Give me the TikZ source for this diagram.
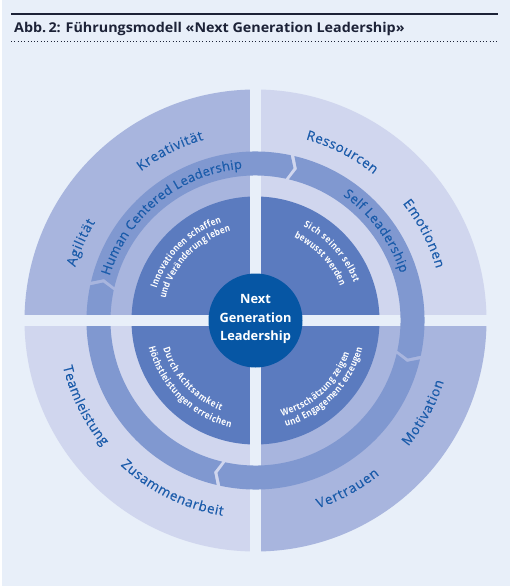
\documentclass[tikz,border=0pt]{standalone}
\usepackage{fontspec}
\setmainfont{Open Sans}
\newfontfamily\condb{Open Sans}[FakeStretch=0.85]
\newfontfamily\medfont{Open Sans}[FakeBold=0.5]
\newfontfamily\titlefont{Open Sans}[FakeStretch=1.06]
\usetikzlibrary{decorations.text}
\definecolor{bgc}{HTML}{E8EFF9}
\definecolor{quadA}{HTML}{A8B5DE}
\definecolor{quadB}{HTML}{D0D6EE}
\definecolor{arrowc}{HTML}{8098D0}
\definecolor{discc}{HTML}{5B7BBF}
\definecolor{centc}{HTML}{0656A4}
\definecolor{tblue}{HTML}{1A5BAA}
\definecolor{titlec}{HTML}{1C2237}
\newcommand\arrowseg[2]{%
  \pgfmathsetmacro\myS{#1-0.3}\pgfmathsetmacro\myN{#1-2.3}%
  \pgfmathsetmacro\myE{#2+1}\pgfmathsetmacro\myT{#2-1}%
  \fill[arrowc] (\myS:169) arc[start angle=\myS,end angle=\myE,radius=169]
    -- (\myT:157) -- (\myE:145) arc[start angle=\myE,end angle=\myS,radius=145]
    -- (\myN:157) -- cycle;}
\newcommand\arctext[5]{%
  \path[decorate,decoration={text along path,text align={fit to path},text={|#4|#5}}]
    (#1:#3) arc[start angle=#1,end angle=#2,radius=#3];}
\newcommand\outfmt{\color{tblue}\medfont\fontsize{13.5}{13.5}\selectfont}
\newcommand\ringfmt{\color{tblue}\medfont\fontsize{13}{13}\selectfont}
\newcommand\infmt{\color{white}\condb\bfseries\fontsize{9.5}{9.5}\selectfont}
\begin{document}
\begin{tikzpicture}[x=1pt,y=1pt]
\useasboundingbox (0,0) rectangle (512,-588);
\fill[white] (0,0) rectangle (512,-588);
\fill[bgc] (2,0) rectangle (510,-586);
% title
\draw[titlec,line width=1.6pt] (11,-14) -- (498,-14);
\node[anchor=base west,inner sep=0,font=\titlefont\bfseries\fontsize{13.5}{15}\selectfont,text=titlec] (title) at (14,-33) {Abb.\,2: Führungsmodell «Next Generation Leadership»};
\draw[titlec,line width=0.9pt,dash pattern=on 0.9pt off 2.4pt] (11,-41) -- (498,-41);
\coordinate (C) at (255.5,-320.5);
\begin{scope}[shift={(C)}]
  \fill[quadA] (0,0) -- (90:231) arc[start angle=90,end angle=180,radius=231] -- cycle;
  \fill[quadB] (0,0) -- (0:231) arc[start angle=0,end angle=90,radius=231] -- cycle;
  \fill[quadB] (0,0) -- (180:231) arc[start angle=180,end angle=270,radius=231] -- cycle;
  \fill[quadA] (0,0) -- (270:231) arc[start angle=270,end angle=360,radius=231] -- cycle;
  \fill[discc] (0,0) circle[radius=124];
  \fill[bgc] (-5.5,-240) rectangle (5.5,240);
  \fill[bgc] (-240,-5.5) rectangle (240,5.5);
  \arrowseg{167}{77}
  \arrowseg{77}{-13}
  \arrowseg{-13}{-103}
  \arrowseg{-103}{-193}
  \fill[bgc] (-180,-5.5) rectangle (-130,5.5);
  \fill[centc] (0,0) circle[radius=47];
  % outer labels
  \arctext{163.5}{148.5}{188}{\outfmt}{Agilität}
  \arctext{127.5}{106}{188}{\outfmt}{Kreativität}
  \arctext{74.5}{51}{188}{\outfmt}{Ressourcen}
  \arctext{38.5}{16}{188}{\outfmt}{Emotionen}
  \arctext{-166.5}{-140.5}{198}{\outfmt}{Teamleistung}
  \arctext{-133}{-99.5}{198}{\outfmt}{Zusammenarbeit}
  \arctext{-71.5}{-51.2}{198}{\outfmt}{Vertrauen}
  \arctext{-39.5}{-18}{198}{\outfmt}{Motivation}
  % ring labels
  \arctext{163}{95}{152.5}{\ringfmt}{Human Centered Leadership}
  \arctext{55}{18}{152.5}{\ringfmt}{Self Leadership}
  % inner labels
  \arctext{162}{109}{104}{\infmt}{Innovationen schaffen}
  \arctext{166.5}{105.5}{92.5}{\infmt}{und Veränderung leben}
  \arctext{63}{21}{105.5}{\infmt}{Sich seiner selbst}
  \arctext{65}{22}{91.5}{\infmt}{bewusst werden}
  \arctext{-163}{-111}{96.5}{\infmt}{Durch Achtsamkeit}
  \arctext{-166}{-103}{110}{\infmt}{Höchstleistungen erreichen}
  \arctext{-74.5}{-19.2}{99.5}{\infmt}{Wertschätzung zeigen}
  \arctext{-74}{-14.5}{110.5}{\infmt}{und Engagement erzeugen}
\end{scope}
\node[font=\bfseries\fontsize{12.8}{18.5}\selectfont,text=white,align=center] (ctr) at ([yshift=1.5]C) {Next\\Generation\\Leadership};
\end{tikzpicture}
\end{document}
